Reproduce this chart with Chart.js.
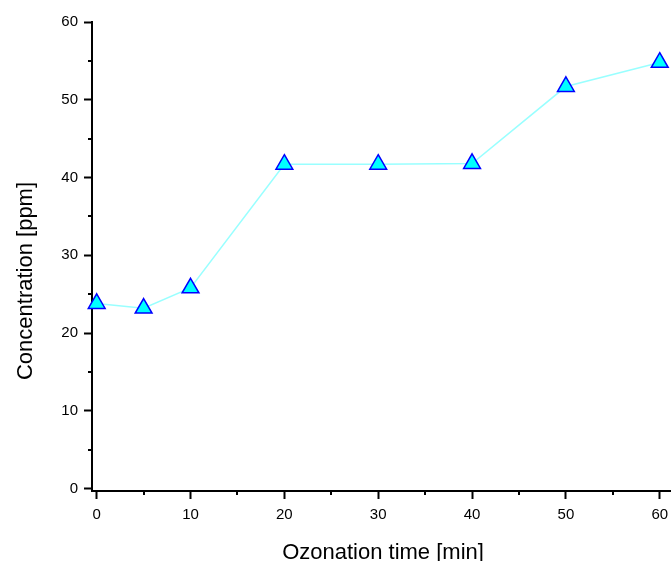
<!DOCTYPE html>
<html>
<head>
<meta charset="utf-8">
<script src="https://cdn.jsdelivr.net/npm/chart.js@4"></script>
<style>
  html, body { margin: 0; padding: 0; background: #fff; }
  #wrap { width: 671px; height: 561px; }
</style>
</head>
<body>
<div id="wrap"><canvas id="ozoneChart" width="671" height="561"></canvas></div>
<script>
// Data
const times = [0, 5, 10, 20, 30, 40, 50, 60];
const concentration = [23.8, 23.2, 25.8, 41.7, 41.7, 41.8, 51.7, 54.8];
const xMajorTicks = [0, 10, 20, 30, 40, 50, 60];
const xMinorTicks = [5, 15, 25, 35, 45, 55];
const yMajorTicks = [0, 10, 20, 30, 40, 50, 60];
const yMinorTicks = [5, 15, 25, 35, 45, 55];
const xTitle = 'Ozonation time [min]';
const yTitle = 'Concentration [ppm]';

const FONT = '"Liberation Sans", Arial, sans-serif';

// Short minor ticks + axis titles
const extrasPlugin = {
    id: 'extras',
    afterDraw(chart) {
        const ctx = chart.ctx;
        const xs = chart.scales.x;
        const ys = chart.scales.y;
        const area = chart.chartArea;
        ctx.save();
        ctx.strokeStyle = '#000';
        ctx.lineWidth = 2;
        ctx.beginPath();
        xMinorTicks.forEach(v => {
            const px = Math.round(xs.getPixelForValue(v));
            ctx.moveTo(px, area.bottom);
            ctx.lineTo(px, area.bottom + 4);
        });
        yMinorTicks.forEach(v => {
            const py = Math.round(ys.getPixelForValue(v));
            ctx.moveTo(area.left, py);
            ctx.lineTo(area.left - 4, py);
        });
        ctx.stroke();

        // Axis titles
        ctx.fillStyle = '#000';
        ctx.font = '22px ' + FONT;
        ctx.textAlign = 'center';
        ctx.textBaseline = 'alphabetic';
        ctx.fillText(xTitle, 383, 559);
        ctx.translate(32, 281);
        ctx.rotate(-Math.PI / 2);
        ctx.fillText(yTitle, 0, 0);
        ctx.restore();
    }
};

const ctx = document.getElementById('ozoneChart').getContext('2d');
const chart = new Chart(ctx, {
    type: 'line',
    data: {
        datasets: [{
            data: times.map((t, i) => ({ x: t, y: concentration[i] })),
            borderColor: '#99ffff',
            borderWidth: 1.5,
            backgroundColor: '#00ffff',
            pointStyle: 'triangle',
            pointRadius: 9.7,
            pointHoverRadius: 9.7,
            pointBackgroundColor: '#00ffff',
            pointBorderColor: '#0000ff',
            pointBorderWidth: 1.5,
            tension: 0,
            fill: false,
            clip: false
        }]
    },
    options: {
        responsive: false,
        animation: false,
        layout: { autoPadding: false, padding: { top: 22, left: 0, right: 0, bottom: 0 } },
        plugins: {
            legend: { display: false },
            tooltip: { enabled: false }
        },
        scales: {
            x: {
                type: 'linear',
                min: -0.5,
                max: 61.2,
                afterBuildTicks: scale => { scale.ticks = xMajorTicks.map(v => ({ value: v })); },
                afterFit: scale => {
                    scale.height = 561 - 491;
                    scale.paddingLeft = 0;
                    scale.paddingRight = 0;
                },
                border: { display: true, color: '#000', width: 2 },
                grid: { drawOnChartArea: false, drawTicks: true, tickLength: 8, tickWidth: 2, tickColor: '#000' },
                ticks: {
                    autoSkip: false,
                    maxRotation: 0,
                    padding: 7,
                    color: '#000',
                    font: { family: FONT, size: 15 }
                }
            },
            y: {
                type: 'linear',
                min: -0.3,
                max: 60,
                afterBuildTicks: scale => { scale.ticks = yMajorTicks.map(v => ({ value: v })); },
                afterFit: scale => {
                    scale.width = 92;
                    scale.paddingTop = 0;
                    scale.paddingBottom = 0;
                },
                border: { display: true, color: '#000', width: 2 },
                grid: { drawOnChartArea: false, drawTicks: true, tickLength: 8, tickWidth: 2, tickColor: '#000' },
                ticks: {
                    autoSkip: false,
                    padding: 6,
                    color: '#000',
                    font: { family: FONT, size: 15 }
                }
            }
        }
    },
    plugins: [extrasPlugin]
});
</script>
</body>
</html>
